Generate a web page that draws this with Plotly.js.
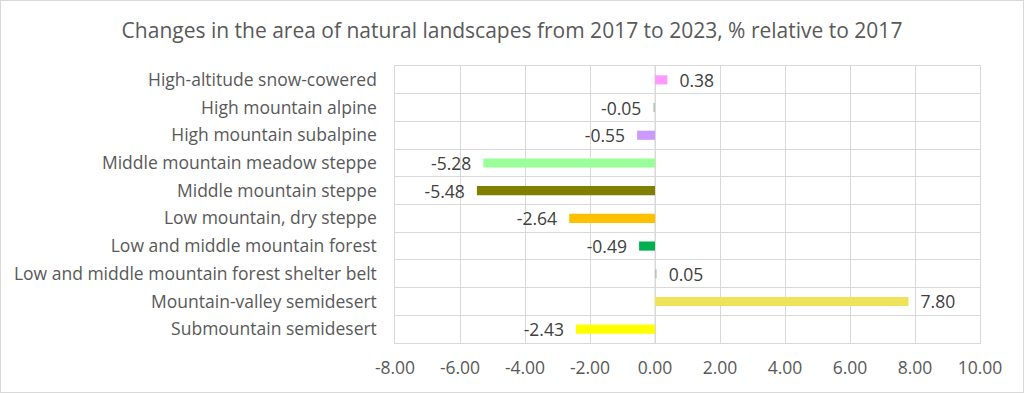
<!DOCTYPE html>
<html><head><meta charset="utf-8">
<script src="https://cdn.plot.ly/plotly-3.0.1.min.js"></script>
<style>
html,body{margin:0;padding:0;background:#fff;}
#chart{width:1024px;height:393px;box-sizing:border-box;border:1px solid #d9d9d9;}
</style></head>
<body><div id="chart"></div>
<script>
const categories = [
  "High-altitude snow-cowered",
  "High mountain alpine",
  "High mountain subalpine",
  "Middle mountain meadow steppe",
  "Middle mountain steppe",
  "Low mountain, dry steppe",
  "Low and middle mountain forest",
  "Low and middle mountain forest shelter belt",
  "Mountain-valley semidesert",
  "Submountain semidesert"
];
const values = [0.38, -0.05, -0.55, -5.28, -5.48, -2.64, -0.49, 0.05, 7.80, -2.43];
const colors = ["#ff99ff", "#bfbfbf", "#cc99ff", "#99ff99", "#808000", "#ffc000", "#00b050", "#bfbfbf", "#efe35a", "#ffff00"];
const tickVals = [-8, -6, -4, -2, 0, 2, 4, 6, 8, 10];
const tickText = ["-8.00", "-6.00", "-4.00", "-2.00", "0.00", "2.00", "4.00", "6.00", "8.00", "10.00"];

const font = "'Open Sans', sans-serif";
const fs = 17.5;
const trace = {
  type: "bar", orientation: "h",
  y: categories, x: values,
  marker: {color: colors},
  width: 0.33,
  text: values.map(v => v >= 0 ? "  " + v.toFixed(2) : v.toFixed(2) + "  "),
  textposition: "outside",
  constraintext: "none",
  outsidetextfont: {family: font, size: fs, color: "#404040"},
  textfont: {family: font, size: fs, color: "#404040"},
  cliponaxis: false,
  hoverinfo: "x+y"
};
const layout = {
  width: 1022, height: 391,
  margin: {l: 394, r: 43, t: 65, b: 49},
  paper_bgcolor: "#fff", plot_bgcolor: "#fff",
  font: {family: font, color: "#595959"},
  title: {text: "Changes in the area of natural landscapes from 2017 to 2023, % relative to 2017",
          font: {size: 21, color: "#595959", family: font}, x: 0.5, xanchor: "center", y: 0.925, yanchor: "middle"},
  xaxis: {range: [-8, 10], tickvals: tickVals, ticktext: tickText, showgrid: true, gridcolor: "#d9d9d9", gridwidth: 1,
          zeroline: false, showline: true, linecolor: "#d9d9d9", mirror: true,
          tickfont: {size: fs, color: "#595959"}, ticks: "outside", ticklen: 9, tickcolor: "rgba(0,0,0,0)", fixedrange: true},
  yaxis: {type: "category", autorange: "reversed", tickson: "boundaries", showgrid: true, gridcolor: "#d9d9d9", gridwidth: 1,
          showline: true, linecolor: "#d9d9d9", mirror: true, ticks: "", ticksuffix: "   ",
          tickfont: {size: fs, color: "#595959"}, fixedrange: true},
  shapes: [{type: "line", xref: "x", yref: "paper", x0: 0, x1: 0, y0: 0, y1: 1, line: {color: "#d9d9d9", width: 1}, layer: "below"}],
  showlegend: false
};
Plotly.newPlot("chart", [trace], layout, {displayModeBar: false, staticPlot: true});
</script></body></html>
